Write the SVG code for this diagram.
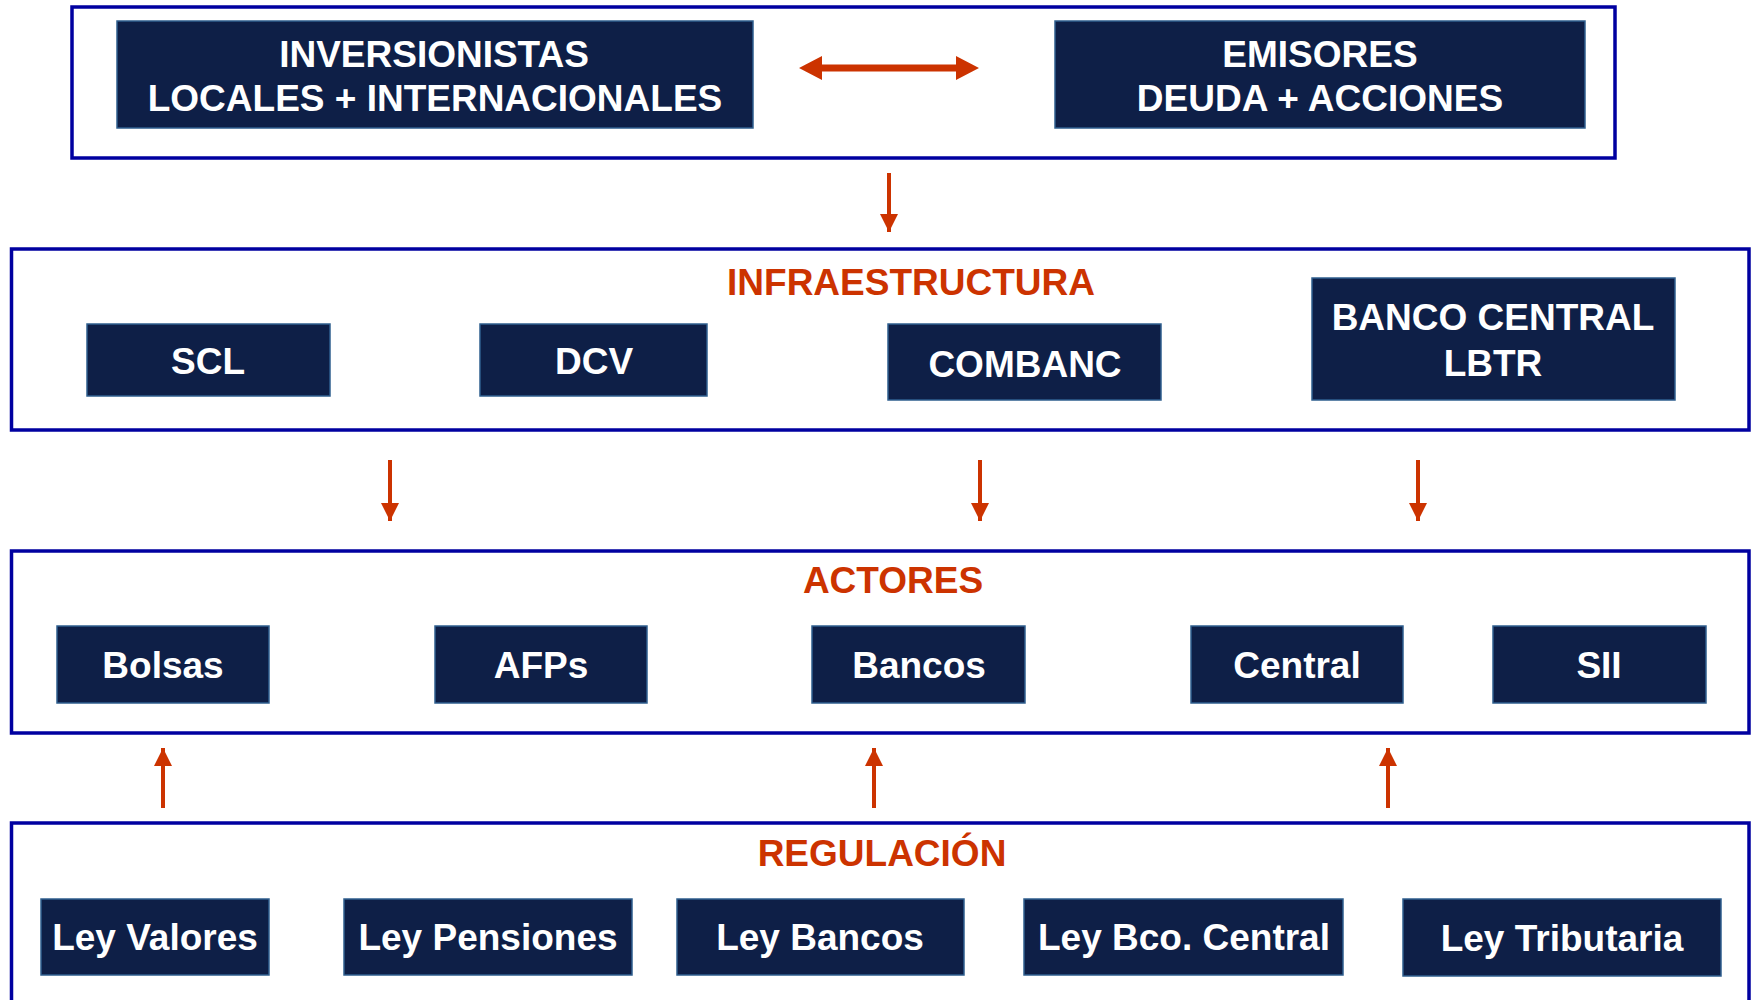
<svg xmlns="http://www.w3.org/2000/svg" width="1752" height="1000" viewBox="0 0 1752 1000">
  <defs>
    <style>
      .frame { fill: #ffffff; stroke: #0000A0; stroke-width: 3.5; }
      .box { fill: #0E1F47; stroke: #2F5F8F; stroke-width: 1.5; }
      .lbl { font-family: "Liberation Sans", Arial, sans-serif; font-weight: bold; font-size: 37px; fill: #ffffff; text-anchor: middle; }
      .title { font-family: "Liberation Sans", Arial, sans-serif; font-weight: bold; font-size: 37px; fill: #CC3300; text-anchor: middle; }
      .shaft { stroke: #CC3300; stroke-width: 4; fill: none; }
      .dbl { fill: #CC3300; }
    </style>
    <marker id="ah" markerUnits="userSpaceOnUse" markerWidth="18" markerHeight="18" viewBox="0 0 18 18" refX="18" refY="9" orient="auto">
      <path d="M0,0 L18,9 L0,18 Z" fill="#CC3300"/>
    </marker>
  </defs>
  <rect width="1752" height="1000" fill="#ffffff"/>

  <g id="frame-top">
    <rect class="frame" x="72" y="7" width="1543" height="151"/>
  </g>
  <g id="frame-infra">
    <rect class="frame" x="11.5" y="249" width="1737.5" height="181"/>
    <text class="title" x="911" y="295">INFRAESTRUCTURA</text>
  </g>
  <g id="frame-actores">
    <rect class="frame" x="11.5" y="551" width="1737.5" height="182"/>
    <text class="title" x="893" y="593">ACTORES</text>
  </g>
  <g id="frame-regulacion">
    <rect class="frame" x="11.5" y="823" width="1737.5" height="190"/>
    <text class="title" x="882" y="866">REGULACIÓN</text>
  </g>

  <g id="inversionistas">
    <rect class="box" x="117" y="21" width="636" height="107"/>
    <text class="lbl" x="434" y="67">INVERSIONISTAS</text>
    <text class="lbl" x="435" y="111">LOCALES + INTERNACIONALES</text>
  </g>
  <g id="emisores">
    <rect class="box" x="1055" y="21" width="530" height="107"/>
    <text class="lbl" x="1320" y="67">EMISORES</text>
    <text class="lbl" x="1320" y="111">DEUDA + ACCIONES</text>
  </g>

  <g id="scl">
    <rect class="box" x="87" y="324" width="243" height="72"/>
    <text class="lbl" x="208" y="374">SCL</text>
  </g>
  <g id="dcv">
    <rect class="box" x="480" y="324" width="227" height="72"/>
    <text class="lbl" x="594" y="374">DCV</text>
  </g>
  <g id="combanc">
    <rect class="box" x="888" y="324" width="273" height="76"/>
    <text class="lbl" x="1025" y="377">COMBANC</text>
  </g>
  <g id="banco-central">
    <rect class="box" x="1312" y="278" width="363" height="122"/>
    <text class="lbl" x="1493" y="330">BANCO CENTRAL</text>
    <text class="lbl" x="1493" y="376">LBTR</text>
  </g>

  <g id="bolsas">
    <rect class="box" x="57" y="626" width="212" height="77"/>
    <text class="lbl" x="163" y="678">Bolsas</text>
  </g>
  <g id="afps">
    <rect class="box" x="435" y="626" width="212" height="77"/>
    <text class="lbl" x="541" y="678">AFPs</text>
  </g>
  <g id="bancos">
    <rect class="box" x="812" y="626" width="213" height="77"/>
    <text class="lbl" x="919" y="678">Bancos</text>
  </g>
  <g id="central">
    <rect class="box" x="1191" y="626" width="212" height="77"/>
    <text class="lbl" x="1297" y="678">Central</text>
  </g>
  <g id="sii">
    <rect class="box" x="1493" y="626" width="213" height="77"/>
    <text class="lbl" x="1599" y="678">SII</text>
  </g>

  <g id="ley-valores">
    <rect class="box" x="41" y="899" width="228" height="76"/>
    <text class="lbl" x="155" y="950">Ley Valores</text>
  </g>
  <g id="ley-pensiones">
    <rect class="box" x="344" y="899" width="288" height="76"/>
    <text class="lbl" x="488" y="950">Ley Pensiones</text>
  </g>
  <g id="ley-bancos">
    <rect class="box" x="677" y="899" width="287" height="76"/>
    <text class="lbl" x="820" y="950">Ley Bancos</text>
  </g>
  <g id="ley-bco-central">
    <rect class="box" x="1024" y="899" width="319" height="76"/>
    <text class="lbl" x="1184" y="950">Ley Bco. Central</text>
  </g>
  <g id="ley-tributaria">
    <rect class="box" x="1403" y="899" width="318" height="77"/>
    <text class="lbl" x="1562" y="951">Ley Tributaria</text>
  </g>

  <g id="connectors">
    <polygon class="dbl" points="799,68 822,56 822,64.5 956,64.5 956,56 979,68 956,80 956,71.5 822,71.5 822,80"/>
    <line class="shaft" x1="889" y1="173" x2="889" y2="232" marker-end="url(#ah)"/>
    <line class="shaft" x1="390" y1="460" x2="390" y2="521" marker-end="url(#ah)"/>
    <line class="shaft" x1="980" y1="460" x2="980" y2="521" marker-end="url(#ah)"/>
    <line class="shaft" x1="1418" y1="460" x2="1418" y2="521" marker-end="url(#ah)"/>
    <line class="shaft" x1="163" y1="808" x2="163" y2="748" marker-end="url(#ah)"/>
    <line class="shaft" x1="874" y1="808" x2="874" y2="748" marker-end="url(#ah)"/>
    <line class="shaft" x1="1388" y1="808" x2="1388" y2="748" marker-end="url(#ah)"/>
  </g>
</svg>
